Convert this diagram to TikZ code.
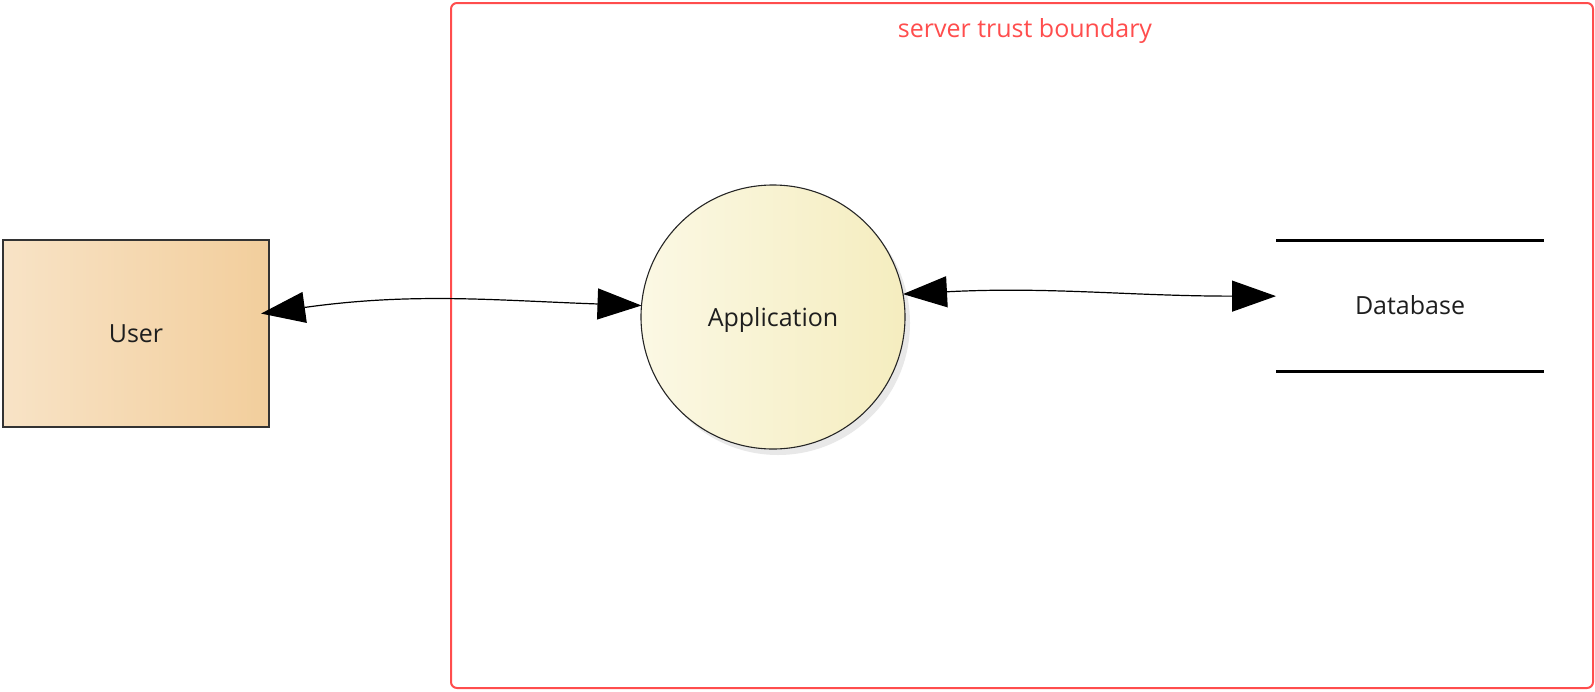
\documentclass[tikz,border=0pt]{standalone}
\usepackage{fontspec}
\setmainfont{Open Sans}
\usepackage{xcolor}
\usepackage{tikz}
\usetikzlibrary{arrows.meta, shadows}
\definecolor{userleft}{HTML}{F8E3C6}
\definecolor{userright}{HTML}{F2CE9C}
\definecolor{appleft}{HTML}{FBF8E4}
\definecolor{appright}{HTML}{F5EDBF}
\definecolor{boundaryred}{HTML}{FF4D4D}
\definecolor{labelgrey}{HTML}{1E1E1E}
\tikzset{
    entity/.style = {
        draw           = black!80,
        line width     = 1.5pt,
        left color     = userleft,
        right color    = userright,
        minimum width  = 266pt,
        minimum height = 187pt,
    },
    process/.style = {
        circle,
        draw           = black!85,
        line width     = 1.1pt,
        left color     = appleft,
        right color    = appright,
        minimum size   = 264pt,
        text depth     = 0pt,
        drop shadow    = {shadow xshift=5pt, shadow yshift=-6pt, opacity=0.18},
    },
    store/.style = {
        minimum width  = 268pt,
        minimum height = 131pt,
    },
    flow/.style = {
        {Triangle[length=44pt, width=31pt]}-{Triangle[length=44pt, width=31pt]},
        line width = 1.2pt,
    },
    boundary/.style = {
        draw           = boundaryred,
        line width     = 2pt,
        rounded corners = 6pt,
        minimum width  = 1142pt,
        minimum height = 685pt,
    },
}

\begin{document}
\begin{tikzpicture}[x=1pt, y=-1pt, every node/.style = {outer sep = 0pt, text = labelgrey, font = \fontsize{25}{30}\selectfont}]
    \useasboundingbox (0,0) rectangle (1595,691);

    % trust boundary
    \node (trust) [boundary] at (1022,345.5) {};
    \node (trustlabel) [text = boundaryred] at (1025,31) {server trust boundary};

    \node (user) [entity] at (136,333.5) {User};
    \node (app) [process] at (773,317) {Application};

    \node (db) [store] at (1410,305.5) {Database};
    \draw [line width=3pt] (db.north west) -- (db.north east) (db.south west) -- (db.south east);

    \draw [flow, shorten <=-8pt] (user.9) to [out=8, in=178] (app.175);
    \draw [flow] (app.10) to [out=3, in=180] (db.176);
\end{tikzpicture}
\end{document}
